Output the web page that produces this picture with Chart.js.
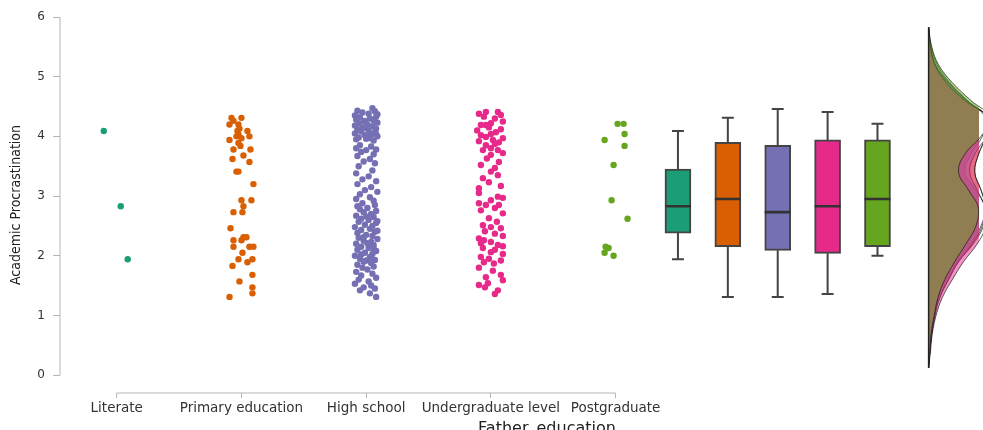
<!DOCTYPE html>
<html>
<head>
<meta charset="utf-8">
<title>Academic Procrastination by Father education</title>
<script src="https://cdn.jsdelivr.net/npm/chart.js@4.4.1/dist/chart.umd.min.js"></script>
<style>
  html, body { margin: 0; padding: 0; background: #fff; }
  #wrap { width: 983px; height: 430px; }
</style>
</head>
<body>
<div id="wrap"><canvas id="rain" width="983" height="430"></canvas></div>
<script>
// categories and palette
const groups = ['Literate', 'Primary education', 'High school', 'Undergraduate level', 'Postgraduate'];
const colors = ['#1b9e77', '#d95f02', '#7570b3', '#e7298a', '#66a61e'];
const yTicks = [0, 1, 2, 3, 4, 5, 6];

// raw points: value + jitter offset (in category units)
const literateVal = [4.09, 2.83, 1.94];
const literateJit = [-0.104, 0.032, 0.088];

const primaryVal = [4.31, 4.31, 4.26, 4.20, 4.20, 4.13, 4.09, 4.09, 4.03, 4.00, 4.00, 3.97, 3.94, 3.89, 3.84, 3.78, 3.78,
  3.68, 3.62, 3.57, 3.41, 3.41, 3.20, 2.93, 2.93, 2.83, 2.73, 2.73, 2.46, 2.31, 2.31, 2.26, 2.26, 2.15, 2.15, 2.15,
  2.05, 1.94, 1.94, 1.89, 1.83, 1.68, 1.57, 1.47, 1.37, 1.31];
const primaryJit = [-0.08, 0.0, -0.064, -0.096, -0.024, -0.016, -0.032, 0.048, -0.024, -0.04, 0.064, 0.0, -0.096, -0.024, -0.008, -0.064, 0.072,
  0.016, -0.072, 0.064, -0.04, -0.024, 0.096, 0.0, 0.08, 0.016, -0.064, 0.008, -0.088, 0.016, 0.04, -0.064, 0.0, -0.064, 0.064, 0.096,
  0.008, -0.024, 0.088, 0.048, -0.072, 0.088, -0.016, 0.088, 0.088, -0.096];

const highVal = [4.47, 4.43, 4.42, 4.40, 4.38, 4.37, 4.35, 4.33, 4.32, 4.30, 4.28, 4.27, 4.26, 4.25, 4.23, 4.22, 4.20, 4.18, 4.17,
  4.15, 4.14, 4.13, 4.12, 4.10, 4.08, 4.07, 4.05, 4.04, 4.03, 4.02, 4.00, 3.98, 3.97, 3.96, 3.95, 3.93,
  3.85, 3.83, 3.80, 3.78, 3.77, 3.74, 3.70, 3.67, 3.62, 3.58, 3.55, 3.50,
  3.43, 3.38, 3.33, 3.28, 3.25, 3.20, 3.15, 3.10, 3.07, 3.03, 2.98, 2.95, 2.92,
  2.88, 2.85, 2.83, 2.80, 2.78, 2.75, 2.73, 2.70, 2.67, 2.66, 2.65, 2.62, 2.60, 2.58, 2.57, 2.55, 2.52, 2.50, 2.48, 2.45,
  2.43, 2.42, 2.40, 2.38, 2.35, 2.33, 2.31, 2.30, 2.28, 2.25, 2.23, 2.21, 2.20, 2.18, 2.15, 2.13, 2.12, 2.10, 2.08, 2.05,
  2.03, 2.02, 2.00, 1.98, 1.95, 1.93, 1.92, 1.90, 1.88, 1.85, 1.82, 1.80, 1.77, 1.73, 1.70, 1.67, 1.63, 1.60, 1.57,
  1.53, 1.50, 1.47, 1.45, 1.42, 1.37, 1.31];
const highJit = [0.05, -0.07, 0.07, -0.03, 0.02, 0.09, -0.09, 0.08, -0.05, 0.03, -0.08, 0.06, -0.01, -0.02, 0.09, -0.06, 0.01, -0.09, 0.05,
  -0.03, 0.0, 0.08, -0.07, 0.02, -0.04, 0.07, -0.09, 0.08, 0.04, -0.01, 0.09, -0.06, 0.03, 0.0, -0.08, 0.06,
  -0.05, 0.04, -0.08, 0.08, 0.0, -0.04, 0.06, -0.07, 0.03, -0.02, 0.07, -0.06,
  0.05, -0.08, 0.02, -0.03, 0.08, -0.07, 0.04, -0.01, 0.09, -0.05, 0.03, -0.08, 0.06,
  -0.03, 0.07, -0.07, 0.01, -0.05, 0.08, -0.02, 0.04, -0.08, 0.0, 0.06, -0.04, 0.02, 0.09, -0.06, 0.08, -0.01, 0.05, -0.09, 0.03,
  -0.04, 0.09, 0.07, -0.07, 0.0, 0.05, -0.02, -0.06, 0.09, -0.02, 0.04, 0.01, -0.08, 0.06, -0.04, 0.02, 0.06, -0.07, 0.08, -0.01,
  0.05, -0.04, -0.09, 0.03, -0.05, 0.07, 0.0, -0.02, 0.04, -0.07, 0.06, -0.03, 0.01, -0.08, 0.05, -0.04, 0.08, -0.06, 0.02,
  -0.09, 0.04, -0.02, 0.07, -0.05, 0.03, 0.08];

const underVal = [4.41, 4.41, 4.38, 4.36, 4.33, 4.30, 4.25, 4.22, 4.19, 4.19, 4.15, 4.12, 4.10, 4.07, 4.04, 4.02, 3.99, 3.97,
  3.94, 3.92, 3.90, 3.87, 3.85, 3.80, 3.77, 3.77, 3.72, 3.69, 3.63, 3.57, 3.52, 3.47, 3.41, 3.35, 3.30, 3.23, 3.17, 3.13,
  3.05, 2.99, 2.97, 2.93, 2.88, 2.85, 2.85, 2.80, 2.76, 2.71, 2.63, 2.57, 2.51, 2.48, 2.46, 2.41, 2.37, 2.33, 2.29, 2.26,
  2.23, 2.21, 2.18, 2.16, 2.13, 2.10, 2.06, 2.03, 1.98, 1.95, 1.92, 1.89, 1.87, 1.80, 1.75, 1.68, 1.64, 1.59, 1.54, 1.51,
  1.47, 1.42, 1.36];
const underJit = [-0.04, 0.056, -0.096, 0.08, -0.056, 0.032, 0.096, 0.0, -0.08, -0.04, -0.016, 0.08, -0.11, 0.04, 0.0, -0.08, -0.04, 0.096,
  0.016, -0.096, 0.064, 0.032, -0.04, 0.0, -0.064, 0.056, 0.096, 0.0, -0.032, 0.064, -0.08, 0.032, 0.0, 0.056, -0.064, -0.016, 0.08, -0.096,
  -0.096, 0.056, 0.096, 0.0, -0.096, -0.04, 0.064, 0.032, -0.08, 0.096, -0.016, 0.048, -0.064, 0.0, 0.08, -0.048, 0.032, 0.096, -0.096, -0.056,
  0.0, -0.08, 0.056, 0.096, -0.064, 0.032, 0.0, 0.096, -0.08, -0.016, 0.08, -0.056, 0.024, -0.096, 0.016, 0.08, -0.04, 0.096, -0.024, -0.096,
  -0.048, 0.056, 0.032];

const postVal = [4.21, 4.21, 4.04, 3.94, 3.84, 3.52, 2.93, 2.62, 2.15, 2.13, 2.05, 2.00];
const postJit = [0.016, 0.064, 0.072, -0.088, 0.072, -0.016, -0.032, 0.096, -0.08, -0.056, -0.088, -0.016];

// box summaries per group
const boxMin = [1.94, 1.31, 1.31, 1.36, 2.00];
const boxQ1 = [2.38, 2.15, 2.09, 2.04, 2.15];
const boxMed = [2.83, 2.95, 2.73, 2.83, 2.95];
const boxQ3 = [3.45, 3.90, 3.85, 3.94, 3.94];
const boxMax = [4.09, 4.31, 4.46, 4.41, 4.21];

// density estimates along the value axis
const densGrid = [0.12, 0.4, 0.7, 1.0, 1.3, 1.6, 1.9, 2.2, 2.5, 2.8, 3.1, 3.4, 3.7, 4.0, 4.3, 4.6, 4.9, 5.2, 5.5, 5.83];
const densLiterate = [0, 0.01, 0.025, 0.05, 0.08, 0.15, 0.23, 0.34, 0.42, 0.45, 0.38, 0.29, 0.34, 0.43, 0.46, 0.31, 0.17, 0.07, 0.02, 0];
const densPrimary = [0, 0.01, 0.025, 0.05, 0.09, 0.16, 0.24, 0.36, 0.44, 0.46, 0.42, 0.37, 0.40, 0.46, 0.48, 0.30, 0.15, 0.05, 0.015, 0];
const densHigh = [0, 0.01, 0.025, 0.05, 0.09, 0.16, 0.24, 0.35, 0.43, 0.45, 0.39, 0.33, 0.37, 0.46, 0.48, 0.31, 0.16, 0.055, 0.015, 0];
const densUnder = [0, 0.015, 0.03, 0.06, 0.11, 0.19, 0.28, 0.39, 0.46, 0.46, 0.42, 0.37, 0.40, 0.46, 0.48, 0.29, 0.14, 0.05, 0.015, 0];
const densPost = [0, 0.01, 0.02, 0.045, 0.075, 0.13, 0.21, 0.30, 0.38, 0.40, 0.32, 0.24, 0.29, 0.42, 0.50, 0.34, 0.19, 0.08, 0.025, 0];

// layout on the shared x axis (category units)
const X_MIN = -0.455, X_MAX = 6.914;
const Y_MIN = -0.3, Y_MAX = 6;
const BOX_START = 4.5, BOX_STEP = 0.4;
const BOX_HALF = 0.104, CAP_HALF = 0.048;
const DENS_BASE = 6.51;

const points = [
  [literateVal, literateJit],
  [primaryVal, primaryJit],
  [highVal, highJit],
  [underVal, underJit],
  [postVal, postJit]
];
const dens = [densLiterate, densPrimary, densHigh, densUnder, densPost];

function alpha(hex, a) {
  const n = parseInt(hex.slice(1), 16);
  return `rgba(${n >> 16}, ${(n >> 8) & 255}, ${n & 255}, ${a})`;
}

const datasets = [];

// jittered raw points
points.forEach(([vals, jit], i) => {
  datasets.push({
    type: 'scatter',
    data: vals.map((v, k) => ({ x: i + jit[k], y: v })),
    backgroundColor: colors[i],
    borderWidth: 0,
    pointRadius: 3.2,
    order: 1
  });
});

// whiskers, caps and medians
const boxLines = [];
const medLines = [];
boxMin.forEach((lo, i) => {
  const x = BOX_START + i * BOX_STEP;
  boxLines.push({ x, y: boxQ3[i] }, { x, y: boxMax[i] }, { x, y: null });
  boxLines.push({ x, y: boxQ1[i] }, { x, y: lo }, { x, y: null });
  boxLines.push({ x: x - CAP_HALF, y: boxMax[i] }, { x: x + CAP_HALF, y: boxMax[i] }, { x, y: null });
  boxLines.push({ x: x - CAP_HALF, y: lo }, { x: x + CAP_HALF, y: lo }, { x, y: null });
  medLines.push({ x: x - BOX_HALF, y: boxMed[i] }, { x: x + BOX_HALF, y: boxMed[i] }, { x, y: null });
});
datasets.push({
  type: 'line', data: medLines, borderColor: '#333', borderWidth: 2.6,
  pointRadius: 0, spanGaps: false, tension: 0, order: 2
});
datasets.push({
  type: 'line', data: boxLines, borderColor: '#444', borderWidth: 2,
  pointRadius: 0, spanGaps: false, tension: 0, order: 4
});

// boxes as floating bars
datasets.push({
  type: 'bar',
  data: boxQ1.map((q, i) => ({ x: BOX_START + i * BOX_STEP, y: [q, boxQ3[i]] })),
  backgroundColor: colors,
  borderColor: '#444',
  borderWidth: 2,
  borderSkipped: false,
  barThickness: 26,
  order: 3
});

// half-violin densities, drawn sideways from a baseline (last group on top)
dens.forEach((d, i) => {
  datasets.push({
    type: 'line',
    indexAxis: 'y',
    data: densGrid.map((y, k) => ({ x: DENS_BASE + d[k], y })),
    fill: { value: DENS_BASE },
    backgroundColor: alpha(colors[i], 0.5),
    borderColor: 'rgba(20, 20, 20, 0.85)',
    borderWidth: 0.8,
    pointRadius: 0,
    tension: 0.4,
    clip: false,
    order: 5 + (4 - i)
  });
});
datasets.push({
  type: 'line',
  data: [{ x: DENS_BASE, y: densGrid[0] }, { x: DENS_BASE, y: densGrid[densGrid.length - 1] }],
  borderColor: '#222', borderWidth: 1.5, pointRadius: 0, order: 4.5
});

// range-frame axis lines
datasets.push({
  type: 'line',
  data: [{ x: X_MIN, y: 0 }, { x: X_MIN, y: 6 }, { x: X_MIN, y: null }, { x: 0, y: Y_MIN }, { x: 4, y: Y_MIN }],
  borderColor: '#b5b5b5', borderWidth: 1, pointRadius: 0, spanGaps: false, clip: false, order: 20
});

const xTitle = {
  id: 'xTitle',
  afterDraw(chart) {
    const ctx = chart.ctx;
    ctx.save();
    ctx.font = '16px "DejaVu Sans", sans-serif';
    ctx.fillStyle = '#222';
    ctx.textAlign = 'center';
    ctx.textBaseline = 'alphabetic';
    ctx.fillText('Father_education', chart.scales.x.getPixelForValue(3.45), 433);
    ctx.restore();
  }
};

Chart.defaults.font.family = '"DejaVu Sans", sans-serif';

new Chart(document.getElementById('rain'), {
  type: 'scatter',
  data: { datasets },
  options: {
    responsive: false,
    animation: false,
    devicePixelRatio: 1,
    layout: { padding: { top: 17, right: 0, left: 0, bottom: 0 } },
    plugins: { legend: { display: false }, tooltip: { enabled: false } },
    scales: {
      x: {
        type: 'linear',
        min: X_MIN,
        max: X_MAX,
        offset: false,
        afterBuildTicks: (s) => { s.ticks = groups.map((_, i) => ({ value: i })); },
        afterFit: (s) => { s.height = 37; s.paddingLeft = 0; s.paddingRight = 0; },
        ticks: {
          autoSkip: false, maxRotation: 0, padding: 2,
          color: '#333', font: { size: 13.5 },
          callback: (v) => groups[v]
        },
        grid: { offset: false, drawOnChartArea: false, tickLength: 5, color: '#b5b5b5' },
        border: { display: false }
      },
      y: {
        type: 'linear',
        min: Y_MIN,
        max: Y_MAX,
        offset: false,
        afterBuildTicks: (s) => { s.ticks = yTicks.map((v) => ({ value: v })); },
        afterFit: (s) => { s.width = 60; s.paddingTop = 0; s.paddingBottom = 0; },
        ticks: { padding: 8, color: '#333', font: { size: 12 } },
        grid: { offset: false, drawOnChartArea: false, tickLength: 7, color: '#b5b5b5' },
        border: { display: false },
        title: {
          display: true,
          text: 'Academic Procrastination',
          color: '#222',
          padding: { top: 8, bottom: 0 },
          font: { size: 14, family: '"Liberation Sans Narrow", "DejaVu Sans Condensed", sans-serif' }
        }
      }
    }
  },
  plugins: [xTitle]
});
</script>
</body>
</html>
